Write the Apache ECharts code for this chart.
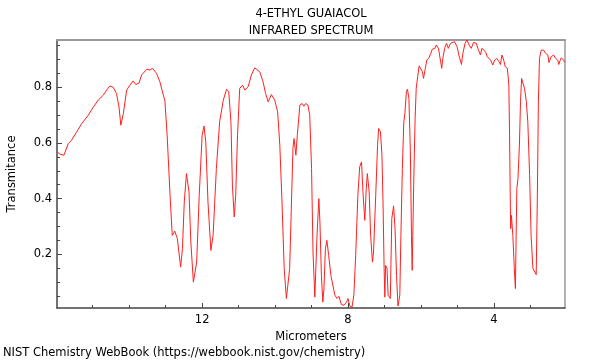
<!DOCTYPE html>
<html>
<head>
<meta charset="utf-8">
<script src="https://cdn.jsdelivr.net/npm/echarts@6/dist/echarts.min.js"></script>
<style>html,body{margin:0;padding:0;background:#fff}#c{width:600px;height:360px}</style>
</head>
<body>
<div id="c"></div>
<script>
const wavelength = [15.97,15.90,15.79,15.67,15.58,15.44,15.30,15.12,14.99,14.85,14.71,14.62,14.53,14.44,14.35,14.28,14.23,14.16,14.07,13.98,13.89,13.82,13.73,13.66,13.52,13.43,13.36,13.25,13.16,13.02,
12.96,12.88,12.82,12.75,12.68,12.59,12.54,12.49,12.43,12.36,12.31,12.24,12.15,12.08,12.00,11.95,11.90,11.84,11.76,11.70,11.61,11.52,11.42,11.33,11.27,11.21,11.17,11.12,11.08,11.03,10.97,10.89,10.83,10.74,10.65,10.56,
10.42,10.33,10.26,10.19,10.10,10.01,9.93,9.87,9.81,9.75,9.69,9.64,9.60,9.55,9.51,9.48,9.43,9.39,9.32,9.26,9.21,9.16,9.10,9.05,9.00,8.96,8.91,8.88,8.85,8.80,8.77,8.73,8.69,8.66,8.62,8.58,8.53,8.47,8.42,8.36,8.30,8.25,8.18,8.11,8.04,8.00,7.95,7.89,7.84,7.79,7.73,7.68,7.63,7.59,7.54,7.50,7.47,7.42,7.38,7.33,7.30,7.24,7.19,7.16,7.11,7.07,7.04,7.01,6.99,6.97,6.93,6.90,6.84,6.80,6.75,6.71,6.67,6.63,6.58,6.55,6.51,6.47,6.44,6.40,6.37,6.33,6.29,6.26,6.24,6.20,6.16,6.13,6.09,6.05,6.01,5.96,5.93,5.88,5.84,5.78,5.73,5.69,5.62,5.58,5.52,5.49,5.43,5.40,5.35,5.30,5.25,5.19,5.14,5.08,5.01,4.96,4.89,4.85,4.79,4.74,4.68,4.62,4.56,4.48,4.44,4.37,4.33,4.28,4.23,4.18,4.14,4.09,4.03,3.98,3.92,3.86,3.82,3.78,3.73,3.69,3.63,3.59,3.57,3.55,3.54,3.52,3.50,3.48,3.44,3.41,3.39,3.37,3.34,3.30,3.27,3.24,3.21,3.16,3.11,3.07,3.02,2.98,2.93,2.89,2.84,2.81,2.78,2.75,2.70,2.64,2.58,2.52,2.49,2.43,2.36,2.31,2.25,2.22,2.18,2.15,2.09,2.06];
const transmittance = [0.568,0.560,0.556,0.598,0.610,0.640,0.670,0.700,0.728,0.754,0.772,0.790,0.805,0.800,0.778,0.730,0.664,0.706,0.790,0.808,0.823,0.810,0.816,0.844,0.865,0.862,0.868,0.850,0.820,0.750,
0.628,0.412,0.268,0.283,0.256,0.154,0.220,0.388,0.490,0.424,0.244,0.100,0.172,0.412,0.628,0.661,0.604,0.388,0.214,0.268,0.508,0.676,0.754,0.793,0.784,0.676,0.448,0.334,0.412,0.628,0.796,0.808,0.790,0.802,0.844,0.870,
0.856,0.820,0.778,0.748,0.774,0.754,0.712,0.592,0.388,0.149,0.041,0.041,0.149,0.388,0.580,0.616,0.556,0.628,0.736,0.742,0.732,0.742,0.736,0.700,0.508,0.208,0.046,0.052,0.268,0.400,0.316,0.124,0.028,0.077,0.220,0.250,0.196,0.124,0.122,0.053,0.041,0.049,0.019,0.017,0.028,0.041,0.014,0.010,0.053,0.196,0.412,0.514,0.532,0.424,0.322,0.436,0.490,0.424,0.268,0.172,0.208,0.412,0.592,0.652,0.640,0.556,0.388,0.149,0.046,0.160,0.149,0.053,0.041,0.328,0.374,0.292,0.124,0.014,0.053,0.268,0.508,0.676,0.706,0.784,0.793,0.760,0.568,0.268,0.142,0.448,0.688,0.796,0.838,0.877,0.874,0.856,0.832,0.868,0.898,0.906,0.922,0.937,0.940,0.952,0.940,0.916,0.868,0.904,0.940,0.958,0.940,0.958,0.964,0.964,0.946,0.916,0.882,0.922,0.958,0.970,0.952,0.940,0.961,0.958,0.940,0.916,0.940,0.937,0.928,0.910,0.913,0.898,0.880,0.898,0.904,0.892,0.882,0.916,0.898,0.874,0.868,0.808,0.628,0.388,0.292,0.340,0.340,0.268,0.149,0.077,0.268,0.436,0.472,0.592,0.748,0.832,0.826,0.796,0.748,0.676,0.484,0.268,0.149,0.142,0.127,0.388,0.748,0.904,0.934,0.934,0.922,0.916,0.889,0.910,0.916,0.904,0.898,0.882,0.898,0.906,0.898,0.890];
const xMinorTicks = [3,4,5,6,7,8,9,10,11,12,13,14,15];
const xMajorTicks = [4,8,12];
const yMinorTicks = [0.05,0.1,0.15,0.2,0.25,0.3,0.35,0.4,0.45,0.5,0.55,0.6,0.65,0.7,0.75,0.8,0.85,0.9,0.95];
const yMajorTicks = [0.2,0.4,0.6,0.8];
const titleText = '4-ETHYL GUAIACOL\nINFRARED SPECTRUM';
const footerText = 'NIST Chemistry WebBook (https://webbook.nist.gov/chemistry)';

const FONT = 'DejaVu Sans';
const FS = 11.5;
const xRange = {min: 2.05, max: 15.98};
const yRange = {min: 0.007, max: 0.97};
const chart = echarts.init(document.getElementById('c'), null, {renderer: 'canvas'});
chart.setOption({
  animation: false,
  backgroundColor: '#fff',
  textStyle: {fontFamily: FONT},
  title: [
    {text: titleText, left: 311, top: 6, textAlign: 'center', padding: 0,
     textStyle: {fontFamily: FONT, fontSize: FS, fontWeight: 'normal', color: '#000', lineHeight: 17}},
    {text: footerText, left: 3, top: 347, padding: 0,
     textStyle: {fontFamily: FONT, fontSize: FS, fontWeight: 'normal', color: '#000'}}
  ],
  grid: {left: 57, right: 35, top: 40, bottom: 52, containLabel: false, outerBoundsMode: 'none'},
  xAxis: [
    {type: 'value', position: 'bottom', inverse: true, min: xRange.min, max: xRange.max,
     axisLine: {lineStyle: {color: '#444', width: 1.5}},
     axisTick: {inside: true, length: 3, customValues: xMinorTicks, lineStyle: {color: '#444'}},
     axisLabel: {show: false}, splitLine: {show: false}},
    {type: 'value', position: 'bottom', inverse: true, min: xRange.min, max: xRange.max,
     axisLine: {show: false},
     axisTick: {inside: true, length: 5, customValues: xMajorTicks, lineStyle: {color: '#444'}},
     axisLabel: {customValues: xMajorTicks, fontFamily: FONT, fontSize: FS, color: '#000', margin: 6},
     name: 'Micrometers', nameLocation: 'middle', nameGap: 23,
     nameTextStyle: {fontFamily: FONT, fontSize: FS, color: '#000'},
     splitLine: {show: false}},
    {type: 'value', position: 'top', inverse: true, min: xRange.min, max: xRange.max,
     axisLine: {lineStyle: {color: '#999', width: 2}},
     axisTick: {show: false}, axisLabel: {show: false}, splitLine: {show: false}}
  ],
  yAxis: [
    {type: 'value', position: 'left', min: yRange.min, max: yRange.max,
     axisLine: {show: true, lineStyle: {color: '#444', width: 1.5}},
     axisTick: {show: true, inside: true, length: 3, customValues: yMinorTicks, lineStyle: {color: '#444'}},
     axisLabel: {show: false}, splitLine: {show: false}},
    {type: 'value', position: 'left', min: yRange.min, max: yRange.max,
     axisLine: {show: false},
     axisTick: {show: true, inside: true, length: 5, customValues: yMajorTicks, lineStyle: {color: '#444'}},
     axisLabel: {customValues: yMajorTicks, formatter: v => v.toFixed(1), fontFamily: FONT, fontSize: FS, color: '#000', margin: 5},
     name: 'Transmitance', nameLocation: 'middle', nameGap: 39, nameRotate: 90,
     nameTextStyle: {fontFamily: FONT, fontSize: FS, color: '#000'},
     splitLine: {show: false}},
    {type: 'value', position: 'right', min: yRange.min, max: yRange.max,
     axisLine: {show: true, lineStyle: {color: '#999', width: 1.5}},
     axisTick: {show: false}, axisLabel: {show: false}, splitLine: {show: false}}
  ],
  series: [{
    type: 'line', xAxisIndex: 0, yAxisIndex: 0, showSymbol: false, symbol: 'none',
    lineStyle: {color: '#ff2020', width: 1},
    data: wavelength.map((w, i) => [w, transmittance[i]])
  }]
});
</script>
</body>
</html>
